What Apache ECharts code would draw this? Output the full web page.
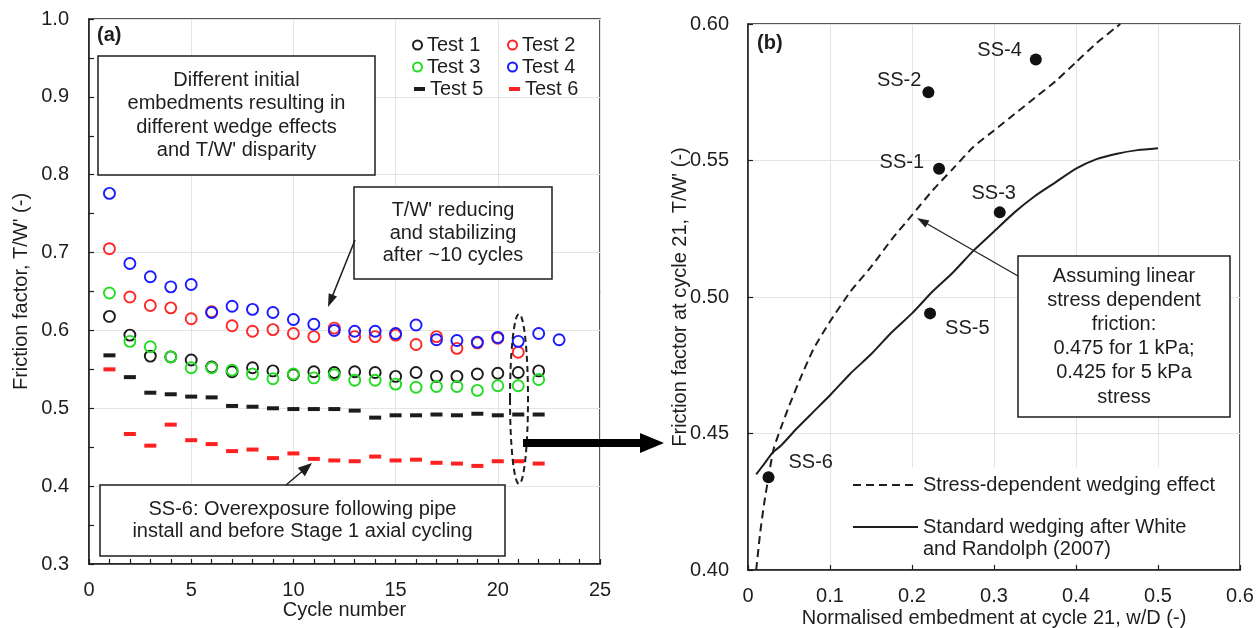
<!DOCTYPE html>
<html>
<head>
<meta charset="utf-8">
<script src="https://cdn.jsdelivr.net/npm/echarts@6/dist/echarts.min.js"></script>
<style>
  html, body { margin: 0; padding: 0; background: #fff; }
  #chart { width: 1256px; height: 628px; }
</style>
</head>
<body>
<div id="chart"></div>
<script>
// ---- Panel (a): friction factor T/W' per cycle ----
const cycles = [1, 2, 3, 4, 5, 6, 7, 8, 9, 10, 11, 12, 13, 14, 15, 16, 17, 18, 19, 20, 21, 22, 23];
const test1 = [0.618, 0.594, 0.567, 0.566, 0.562, 0.553, 0.547, 0.552, 0.548, 0.543, 0.547, 0.546, 0.547, 0.546, 0.541, 0.546, 0.541, 0.541, 0.544, 0.545, 0.546, 0.548];
const test2 = [0.705, 0.643, 0.632, 0.629, 0.615, 0.624, 0.606, 0.599, 0.601, 0.596, 0.592, 0.603, 0.592, 0.592, 0.594, 0.582, 0.592, 0.577, 0.584, 0.590, 0.572];
const test3 = [0.648, 0.586, 0.579, 0.566, 0.552, 0.552, 0.549, 0.544, 0.538, 0.544, 0.539, 0.543, 0.536, 0.536, 0.531, 0.527, 0.528, 0.528, 0.523, 0.529, 0.529, 0.537];
const test4 = [0.776, 0.686, 0.669, 0.656, 0.659, 0.623, 0.631, 0.627, 0.623, 0.614, 0.608, 0.600, 0.599, 0.599, 0.596, 0.607, 0.588, 0.587, 0.585, 0.591, 0.586, 0.596, 0.588];
const test5 = [0.568, 0.540, 0.520, 0.518, 0.515, 0.514, 0.503, 0.502, 0.500, 0.499, 0.499, 0.499, 0.497, 0.488, 0.491, 0.491, 0.492, 0.491, 0.493, 0.491, 0.492, 0.492];
const test6 = [0.550, 0.467, 0.452, 0.479, 0.459, 0.454, 0.445, 0.447, 0.436, 0.442, 0.435, 0.433, 0.432, 0.438, 0.433, 0.434, 0.430, 0.429, 0.426, 0.432, 0.432, 0.429];

// ---- Panel (b): T/W' at cycle 21 against normalised embedment ----
const testNames = ['SS-1', 'SS-2', 'SS-3', 'SS-4', 'SS-5', 'SS-6'];
const embedment21 = [0.233, 0.220, 0.307, 0.351, 0.222, 0.025];
const friction21 = [0.547, 0.575, 0.531, 0.587, 0.494, 0.434];

const stressDepX = [0.010, 0.015, 0.020, 0.025, 0.031, 0.040, 0.050, 0.065, 0.080, 0.100, 0.125, 0.150, 0.175, 0.200, 0.225, 0.250, 0.275, 0.300, 0.325, 0.350, 0.375, 0.400, 0.425, 0.454];
const stressDepY = [0.400, 0.414, 0.425, 0.434, 0.444, 0.452, 0.460, 0.471, 0.481, 0.491, 0.502, 0.511, 0.521, 0.530, 0.539, 0.547, 0.555, 0.561, 0.567, 0.573, 0.579, 0.586, 0.593, 0.600];
const standardX = [0.010, 0.020, 0.030, 0.040, 0.060, 0.080, 0.100, 0.125, 0.150, 0.175, 0.200, 0.225, 0.250, 0.275, 0.300, 0.325, 0.350, 0.375, 0.400, 0.425, 0.450, 0.475, 0.500];
const standardY = [0.435, 0.439, 0.443, 0.4455, 0.452, 0.458, 0.464, 0.472, 0.479, 0.487, 0.494, 0.502, 0.509, 0.517, 0.524, 0.531, 0.537, 0.542, 0.547, 0.5505, 0.5525, 0.5538, 0.5545];

const FONT = 'Liberation Sans, Arial, Helvetica, sans-serif';
const INK = '#1e1e1e';
const GRID_LINE = '#e4e4e4';

const pairs = (xs, ys) => ys.map((y, i) => [xs[i], y]);

// where each test label sits around its marker
const labelPlacement = {
  'SS-1': { position: 'left', offset: [-4, -6] },
  'SS-2': { position: 'left', offset: [4, -12] },
  'SS-3': { position: 'top', offset: [-6, 2] },
  'SS-4': { position: 'left', offset: [-3, -9] },
  'SS-5': { position: 'right', offset: [4, 15] },
  'SS-6': { position: 'right', offset: [9, -15] }
};

function axisCommon(extra) {
  return Object.assign({
    type: 'value',
    nameLocation: 'middle',
    nameMoveOverlap: false,
    nameTextStyle: { fontSize: 20, color: INK, fontFamily: FONT },
    axisLine: { show: true, onZero: false, lineStyle: { color: INK, width: 1.5 } },
    axisTick: { show: true, inside: true, length: 5, lineStyle: { color: INK, width: 1.2 } },
    axisLabel: { fontSize: 20, color: INK, fontFamily: FONT },
    splitLine: { show: true, lineStyle: { color: GRID_LINE, width: 1 } }
  }, extra);
}

const circleSeries = (name, values, color) => ({
  name, type: 'scatter', xAxisIndex: 0, yAxisIndex: 0,
  symbol: 'circle', symbolSize: 11,
  itemStyle: { color: 'rgba(0,0,0,0)', borderColor: color, borderWidth: 1.9, opacity: 1 },
  emphasis: { disabled: true },
  data: pairs(cycles, values), z: 3
});
const dashSeries = (name, values, color) => ({
  name, type: 'scatter', xAxisIndex: 0, yAxisIndex: 0,
  symbol: 'rect', symbolSize: [12, 4],
  itemStyle: { color, opacity: 1 },
  emphasis: { disabled: true },
  data: pairs(cycles, values), z: 3
});

function oneLegend(name, left, top, opts) {
  return Object.assign({
    data: [name], left, top, orient: 'vertical', padding: 0,
    itemWidth: 9, itemHeight: 9, itemGap: 0,
    textStyle: { fontSize: 20, color: INK, fontFamily: FONT }
  }, opts || {});
}

function arrow(x1, y1, x2, y2, lw, hl, hw) {
  const dx = x2 - x1, dy = y2 - y1, len = Math.hypot(dx, dy);
  const ux = dx / len, uy = dy / len, nx = -uy, ny = ux;
  const bx = x2 - ux * hl, by = y2 - uy * hl;
  return [
    { type: 'line', z: 20, shape: { x1, y1, x2: x2 - ux * hl * 0.8, y2: y2 - uy * hl * 0.8 },
      style: { stroke: INK, lineWidth: lw } },
    { type: 'polygon', z: 20, shape: { points: [[x2, y2], [bx + nx * hw / 2, by + ny * hw / 2], [bx - nx * hw / 2, by - ny * hw / 2]] },
      style: { fill: INK } }
  ];
}

function noteBox(x, y, w, h, text, lineHeight) {
  return [
    { type: 'rect', z: 15, shape: { x, y, width: w, height: h },
      style: { fill: '#fff', stroke: INK, lineWidth: 1.5 } },
    { type: 'text', z: 16, x: x + w / 2, y: y + h / 2,
      style: { text, fill: INK, font: '20px ' + FONT, align: 'center', verticalAlign: 'middle', lineHeight } }
  ];
}

const lineLegendStyle = { color: 'rgba(0,0,0,0)', borderWidth: 0 };

const chart = echarts.init(document.getElementById('chart'), null, { renderer: 'canvas' });

const option = {
  animation: false,
  backgroundColor: '#fff',
  textStyle: { fontFamily: FONT },
  grid: [
    { left: 89, top: 19, width: 511, height: 545, outerBoundsMode: 'none', containLabel: false,
      show: true, borderColor: INK, borderWidth: 1.5, backgroundColor: '#fff' },
    { left: 748, top: 24, width: 492, height: 546, outerBoundsMode: 'none', containLabel: false,
      show: true, borderColor: INK, borderWidth: 1.5, backgroundColor: '#fff' }
  ],
  xAxis: [
    axisCommon({
      gridIndex: 0, min: 0, max: 25, interval: 5, name: 'Cycle number', nameGap: 36,
      minorTick: { show: true, splitNumber: 5, length: 5, lineStyle: { color: INK, width: 1.2 } },
      axisLabel: { fontSize: 20, color: INK, fontFamily: FONT, margin: 16 }
    }),
    axisCommon({
      gridIndex: 1, min: 0, max: 0.6, interval: 0.1, name: 'Normalised embedment at cycle 21, w/D (-)', nameGap: 38,
      axisLabel: { fontSize: 20, color: INK, fontFamily: FONT, margin: 16,
        formatter: v => (Math.abs(v) < 1e-9 ? '0' : v.toFixed(1)) }
    })
  ],
  yAxis: [
    axisCommon({
      gridIndex: 0, min: 0.3, max: 1.0, interval: 0.1, name: "Friction factor, T/W' (-)", nameGap: 58,
      minorTick: { show: true, splitNumber: 2, length: 5, lineStyle: { color: INK, width: 1.2 } },
      axisLabel: { fontSize: 20, color: INK, fontFamily: FONT, margin: 20, formatter: v => v.toFixed(1) }
    }),
    axisCommon({
      gridIndex: 1, min: 0.4, max: 0.6, interval: 0.05, name: "Friction factor at cycle 21, T/W' (-)", nameGap: 58,
      axisLabel: { fontSize: 20, color: INK, fontFamily: FONT, margin: 19, formatter: v => v.toFixed(2) }
    })
  ],
  legend: [
    oneLegend('Test 1', 412, 35),
    oneLegend('Test 2', 507, 35),
    oneLegend('Test 3', 412, 57),
    oneLegend('Test 4', 507, 57),
    oneLegend('Test 5', 414, 79, { itemWidth: 11, itemHeight: 4 }),
    oneLegend('Test 6', 509, 79, { itemWidth: 11, itemHeight: 4 }),
    oneLegend('Stress-dependent wedging effect', 852, 475, {
      itemWidth: 65, itemHeight: 12, itemStyle: lineLegendStyle
    }),
    oneLegend('Standard wedging after White\nand Randolph (2007)', 852, 494, {
      itemWidth: 65, itemHeight: 12, itemStyle: lineLegendStyle,
      // blank first line keeps the sample line level with the first text line
      formatter: name => '\n' + name,
      textStyle: { fontSize: 20, color: INK, fontFamily: FONT, lineHeight: 22 }
    })
  ],
  series: [
    circleSeries('Test 1', test1, '#1c1c1c'),
    circleSeries('Test 2', test2, '#ff2626'),
    circleSeries('Test 3', test3, '#22dd22'),
    circleSeries('Test 4', test4, '#1a1aff'),
    dashSeries('Test 5', test5, '#1c1c1c'),
    dashSeries('Test 6', test6, '#ff2020'),
    {
      name: 'Stress-dependent wedging effect', type: 'line', xAxisIndex: 1, yAxisIndex: 1,
      symbol: 'none', smooth: 0.2, emphasis: { disabled: true },
      lineStyle: { color: INK, width: 2, type: [8, 5] },
      itemStyle: { color: INK },
      data: pairs(stressDepX, stressDepY), z: 3
    },
    {
      name: 'Standard wedging after White\nand Randolph (2007)', type: 'line', xAxisIndex: 1, yAxisIndex: 1,
      symbol: 'none', smooth: 0.2, emphasis: { disabled: true },
      lineStyle: { color: INK, width: 2 },
      itemStyle: { color: INK },
      data: pairs(standardX, standardY), z: 3
    },
    {
      name: 'Tests at cycle 21', type: 'scatter', xAxisIndex: 1, yAxisIndex: 1,
      symbol: 'circle', symbolSize: 12, itemStyle: { color: '#111', opacity: 1 },
      emphasis: { disabled: true }, z: 4,
      data: testNames.map((n, i) => ({
        name: n, value: [embedment21[i], friction21[i]],
        label: Object.assign({ show: true, formatter: '{b}', fontSize: 20, color: INK, fontFamily: FONT, distance: 5 }, labelPlacement[n])
      }))
    }
  ],
  graphic: [
    // panel tags
    { type: 'text', z: 16, x: 97, y: 35, style: { text: '(a)', font: 'bold 20px ' + FONT, fill: INK, verticalAlign: 'middle' } },
    { type: 'text', z: 16, x: 757, y: 43, style: { text: '(b)', font: 'bold 20px ' + FONT, fill: INK, verticalAlign: 'middle' } },
    // backdrop of the right-hand legend
    { type: 'rect', z: 1, shape: { x: 846, y: 467, width: 390, height: 96 }, style: { fill: '#fff' } },
    // notes on panel (a)
    ...noteBox(98, 56, 277, 119, 'Different initial\nembedments resulting in\ndifferent wedge effects\nand T/W\' disparity', 23.3),
    ...noteBox(354, 187, 198, 92, 'T/W\' reducing\nand stabilizing\nafter ~10 cycles', 22.5),
    ...noteBox(100, 485, 405, 71, 'SS-6: Overexposure following pipe\ninstall and before Stage 1 axial cycling', 22),
    ...arrow(355, 240, 328, 307, 1.5, 13, 9),
    ...arrow(286, 485, 312, 463, 1.5, 14, 11),
    // cycle 21 highlighted and carried over to panel (b)
    { type: 'ellipse', z: 20, shape: { cx: 519, cy: 399, rx: 9, ry: 85 },
      style: { fill: 'none', stroke: INK, lineWidth: 2, lineDash: [6, 4] } },
    { type: 'polygon', z: 20, shape: { points: [[523, 439], [640, 439], [640, 433], [664, 443], [640, 453], [640, 447], [523, 447]] },
      style: { fill: '#000' } },
    // note on panel (b)
    ...noteBox(1018, 256, 212, 161, 'Assuming linear\nstress dependent\nfriction:\n0.475 for 1 kPa;\n0.425 for 5 kPa\nstress', 24.2),
    ...arrow(1018, 276, 917, 218, 1.2, 12, 8)
  ]
};

chart.setOption(option);
</script>
</body>
</html>
